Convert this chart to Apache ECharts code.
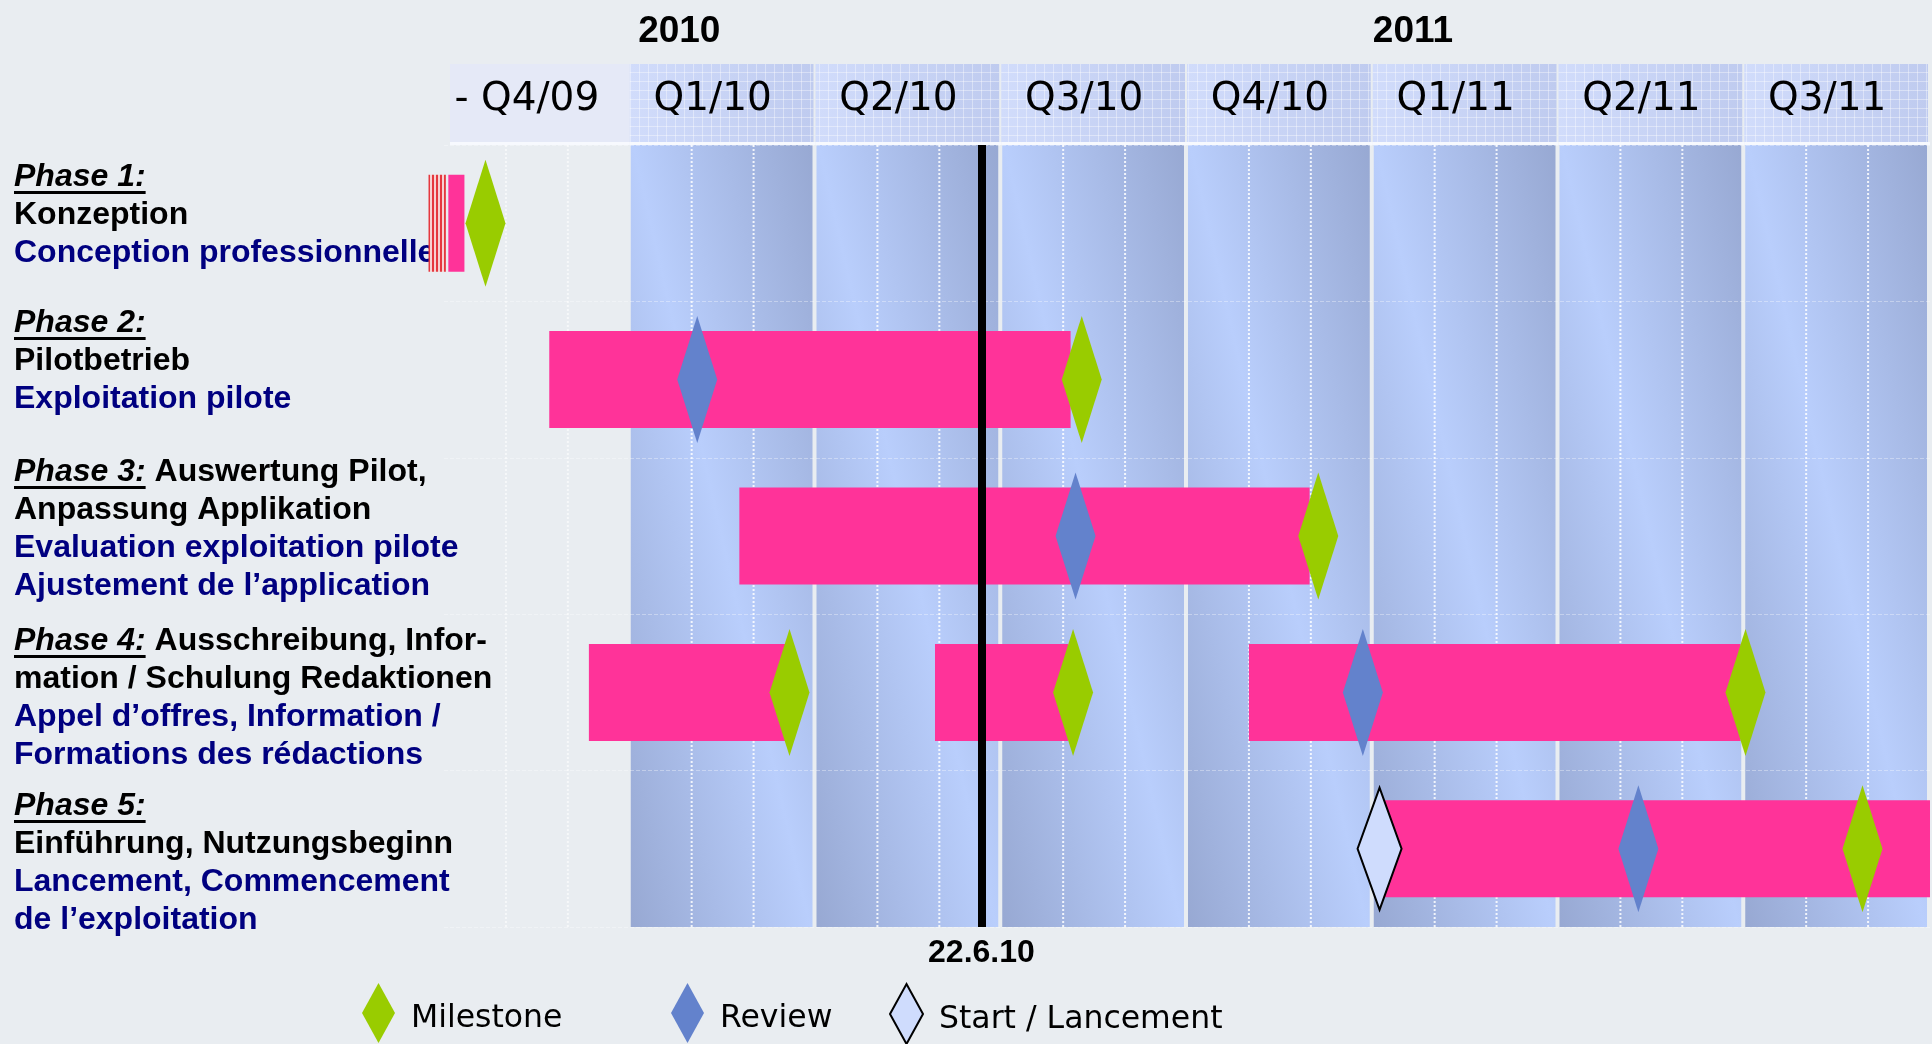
<!DOCTYPE html>
<html>
<head>
<meta charset="utf-8">
<title>Projektplan</title>
<script src="https://cdn.jsdelivr.net/npm/echarts@6/dist/echarts.min.js"></script>
<style>
  html, body { margin: 0; padding: 0; background: #e9edf1; }
  #main { width: 1932px; height: 1044px; }
</style>
</head>
<body>
<div id="main"></div>
<script>
// time axis in months, 0 = 1 Oct 2009
var quarters = ['- Q4/09', 'Q1/10', 'Q2/10', 'Q3/10', 'Q4/10', 'Q1/11', 'Q2/11', 'Q3/11'];
var years = ['2010', '2011'];
var yearAt = [3.8, 15.65];
var phases = ['Phase 1', 'Phase 2', 'Phase 3', 'Phase 4', 'Phase 5'];

// [phase, start month, end month]
var tasks = [
    [0, 0.07, 0.33],
    [1, 1.70, 10.12],
    [2, 4.77, 13.98],
    [3, 2.34, 5.56],
    [3, 7.93, 10.08],
    [3, 13.0, 20.94],
    [4, 15.11, 24]
];
var conceptTasks = [[0, -0.25, 0.03]];
// [month, phase]
var milestones = [[0.67, 0], [10.30, 1], [14.12, 2], [5.58, 3], [10.16, 3], [21.02, 3], [22.91, 4]];
var reviews = [[4.09, 1], [10.20, 2], [14.84, 3], [19.29, 4]];
var starts = [[15.11, 4]];
var today = 8.68;
var todayLabel = '22.6.10';

// row texts on the left
var phaseTitles = ['Phase 1:', 'Phase 2:', 'Phase 3:', 'Phase 4:', 'Phase 5:'];
var textDe = [
    ['', 'Konzeption'],
    ['', 'Pilotbetrieb'],
    [' Auswertung Pilot,', 'Anpassung Applikation'],
    [' Ausschreibung, Infor-', 'mation / Schulung Redaktionen'],
    ['', 'Einführung, Nutzungsbeginn']
];
var textFr = [
    ['Conception professionnelle'],
    ['Exploitation pilote'],
    ['Evaluation exploitation pilote', 'Ajustement de l’application'],
    ['Appel d’offres, Information /', 'Formations des rédactions'],
    ['Lancement, Commencement', 'de l’exploitation']
];
var blockTop = [177, 323, 472, 641, 806];
var lineStep = 38;

var PINK = '#ff3399', GREEN = '#99cc00', BLUE = '#6382cc', NAVY = '#000080';
var FONT_B = 'bold 32px "Liberation Sans", Arial, sans-serif';
var FONT_BI = 'italic bold 32px "Liberation Sans", Arial, sans-serif';

function makeGridPattern() {
    var c = document.createElement('canvas');
    c.width = 9; c.height = 9;
    var g = c.getContext('2d');
    g.fillStyle = 'rgba(255,255,255,0.38)';
    g.fillRect(0, 0, 9, 1);
    g.fillRect(0, 0, 1, 9);
    return c;
}
function makeStripes() {
    var c = document.createElement('canvas');
    c.width = 4; c.height = 4;
    var g = c.getContext('2d');
    g.fillStyle = '#f7d2d2';
    g.fillRect(0, 0, 4, 4);
    g.fillStyle = '#e5383f';
    g.fillRect(0, 0, 2, 4);
    return c;
}
var gridPattern = makeGridPattern();
var stripePattern = makeStripes();

var colGradient = {
    type: 'linear', x: -0.45, y: 0.55, x2: 1.45, y2: 0.45,
    colorStops: [
        {offset: 0, color: '#97a8d2'},
        {offset: 0.5, color: '#b9cefc'},
        {offset: 1, color: '#97a8d2'}
    ]
};
var headGradient = {
    type: 'linear', x: 0, y: 0, x2: 1, y2: 0,
    colorStops: [{offset: 0, color: '#d1dcfb'}, {offset: 1, color: '#bfcbef'}]
};

function renderQuarter(params, api) {
    var first = params.dataIndex === 0;
    var x0 = api.coord([api.value(0), 0])[0];
    var x1 = api.coord([api.value(1), 0])[0];
    var cs = params.coordSys;
    var top = cs.y, bottom = cs.y + cs.height;
    var kids = [];
    var hx = x0 + (first ? 6 : 0);
    var hw = x1 - hx - (first ? 0 : 2);
    kids.push({type: 'rect', shape: {x: hx, y: top - 81, width: hw, height: 78},
        style: {fill: first ? '#e5e9f7' : headGradient}});
    if (!first) {
        kids.push({type: 'rect', shape: {x: hx, y: top - 81, width: hw, height: 78},
            style: {fill: {image: gridPattern, repeat: 'repeat'}}});
        kids.push({type: 'rect', shape: {x: x0 + 1, y: top, width: x1 - x0 - 4, height: cs.height},
            style: {fill: colGradient}});
    }
    kids.push({type: 'rect', shape: {x: hx, y: top - 3, width: x1 - hx, height: 3},
        style: {fill: '#f7f9fe'}});
    for (var m = 1; m < 3; m++) {
        var xm = api.coord([api.value(0) + m, 0])[0];
        kids.push({type: 'line', shape: {x1: xm, y1: top, x2: xm, y2: bottom},
            style: {stroke: '#ffffff', lineWidth: 2, lineDash: [2, 2], opacity: first ? 0.6 : 0.85}});
    }
    return {type: 'group', children: kids};
}

function renderTask(fill) {
    return function (params, api) {
        var a = api.coord([api.value(1), api.value(0)]);
        var b = api.coord([api.value(2), api.value(0)]);
        var h = api.size([0, 1])[1] * 0.62;
        return {
            type: 'rect',
            shape: {x: a[0], y: a[1] - h / 2, width: b[0] - a[0], height: h},
            style: {fill: fill}
        };
    };
}

var legendText = {
    fontFamily: 'DejaVu Sans', fontSize: 31.5, color: '#000', padding: [0, 0, 0, 11],
    rich: {t: {fontFamily: 'DejaVu Sans', fontSize: 31.5, color: '#000', padding: [12, 0, 0, 0]}}
};
function legendAt(name, left) {
    return {
        data: [name], left: left, top: 983, padding: 0, icon: 'diamond',
        itemWidth: 33, itemHeight: 60, selectedMode: false, textStyle: legendText,
        formatter: '{t|{name}}'
    };
}

var myChart = echarts.init(document.getElementById('main'));

var option = {
    backgroundColor: '#e9edf1',
    animation: false,
    grid: {left: 444, right: 2, top: 145, height: 782},
    xAxis: [
        {type: 'value', min: 0, max: 24, show: false},
        {
            type: 'category', position: 'top', data: quarters,
            axisLine: {show: false}, axisTick: {show: false}, splitLine: {show: false},
            axisLabel: {interval: 0, fontFamily: 'DejaVu Sans', fontSize: 39, color: '#000',
                margin: 26, padding: [0, 20, 0, 0]}
        }
    ],
    yAxis: {
        type: 'category', inverse: true, data: phases, z: 1,
        axisLine: {show: false}, axisTick: {show: false}, axisLabel: {show: false},
        splitLine: {show: true, lineStyle: {color: 'rgba(255,255,255,0.35)', width: 1, type: 'dashed'}}
    },
    legend: [
        legendAt('Milestone', 362),
        legendAt('Review', 671),
        legendAt('Start / Lancement', 889)
    ],
    series: [
        {
            type: 'custom', z: 0, silent: true,
            renderItem: renderQuarter,
            encode: {x: [0, 1], y: 2},
            data: quarters.map(function (q, i) { return [i * 3, i * 3 + 3, 0]; })
        },
        {
            type: 'custom', z: 2, silent: true,
            renderItem: renderTask(PINK),
            encode: {x: [1, 2], y: 0},
            data: tasks
        },
        {
            type: 'custom', z: 2, silent: true,
            renderItem: renderTask({image: stripePattern, repeat: 'repeat'}),
            encode: {x: [1, 2], y: 0},
            data: conceptTasks
        },
        {
            type: 'line', z: 3, data: [],
            markLine: {
                silent: true, symbol: ['none', 'none'],
                lineStyle: {color: '#000', width: 8, type: 'solid'},
                label: {show: true, position: 'end', formatter: todayLabel, distance: 10,
                    fontFamily: 'Liberation Sans', fontWeight: 'bold', fontSize: 32, color: '#000'},
                data: [{xAxis: today}]
            }
        },
        {
            name: 'Milestone', type: 'scatter', z: 4, symbol: 'diamond', symbolSize: [40, 127],
            itemStyle: {color: GREEN, opacity: 1}, data: milestones
        },
        {
            name: 'Review', type: 'scatter', z: 4, symbol: 'diamond', symbolSize: [40, 127],
            itemStyle: {color: BLUE, opacity: 1}, data: reviews
        },
        {
            name: 'Start / Lancement', type: 'scatter', z: 4, symbol: 'diamond', symbolSize: [44, 122],
            itemStyle: {color: '#cfdcfd', borderColor: '#000', borderWidth: 2.5, opacity: 1}, data: starts
        }
    ]
};

myChart.setOption(option);

// left text blocks and year captions
var ctx = document.createElement('canvas').getContext('2d');
function textWidth(t, font) { ctx.font = font; return ctx.measureText(t).width; }

var elements = [];
phaseTitles.forEach(function (title, i) {
    var y = blockTop[i];
    var w = textWidth(title, FONT_BI);
    elements.push({type: 'text', x: 14, y: y, z: 1,
        style: {text: title, font: FONT_BI, fill: '#000', verticalAlign: 'middle'}});
    elements.push({type: 'rect', z: 1, shape: {x: 14, y: y + 14, width: w, height: 3}, style: {fill: '#000'}});
    var lines = [];
    textDe[i].forEach(function (t) { lines.push([t, '#000']); });
    textFr[i].forEach(function (t) { lines.push([t, NAVY]); });
    lines.forEach(function (ln, k) {
        if (!ln[0]) return;
        elements.push({type: 'text', z: 1, x: k === 0 ? 14 + w : 14, y: y + k * lineStep,
            style: {text: ln[0], font: FONT_B, fill: ln[1], verticalAlign: 'middle'}});
    });
});
years.forEach(function (yr, i) {
    var px = myChart.convertToPixel({xAxisIndex: 0}, yearAt[i]);
    elements.push({type: 'text', x: px, y: 32, z: 1,
        style: {text: yr, font: 'bold 37px "Liberation Sans", Arial, sans-serif', fill: '#000',
            align: 'center', verticalAlign: 'middle'}});
});

myChart.setOption({graphic: elements});
</script>
</body>
</html>
